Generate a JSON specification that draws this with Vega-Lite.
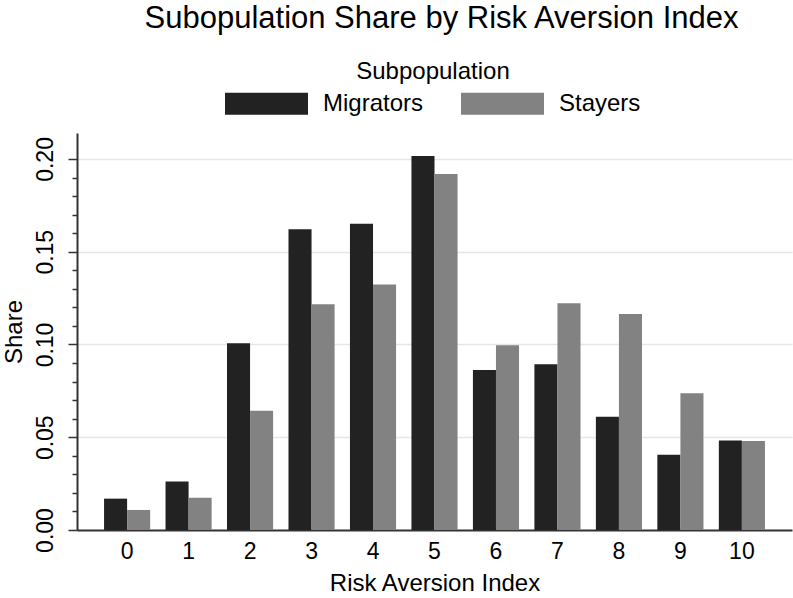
{
  "$schema": "https://vega.github.io/schema/vega-lite/v6.json",
  "width": 715,
  "height": 397,
  "autosize": {"type": "none"},
  "padding": {"left": 77, "top": 133, "right": 1, "bottom": 68},
  "background": "white",
  "config": {
    "font": "Liberation Sans",
    "view": {"stroke": null}
  },
  "title": {
    "text": "Subopulation Share by Risk Aversion Index",
    "fontSize": 31,
    "fontWeight": "normal",
    "color": "black",
    "anchor": "middle",
    "frame": "group",
    "dx": 7,
    "offset": 25
  },
  "data": {
    "values": [
      {"index": "0", "Subpopulation": "Migrators", "share": 0.0169},
      {"index": "0", "Subpopulation": "Stayers", "share": 0.0108},
      {"index": "1", "Subpopulation": "Migrators", "share": 0.0262},
      {"index": "1", "Subpopulation": "Stayers", "share": 0.0174},
      {"index": "2", "Subpopulation": "Migrators", "share": 0.1006},
      {"index": "2", "Subpopulation": "Stayers", "share": 0.0643},
      {"index": "3", "Subpopulation": "Migrators", "share": 0.1621},
      {"index": "3", "Subpopulation": "Stayers", "share": 0.1217},
      {"index": "4", "Subpopulation": "Migrators", "share": 0.1651},
      {"index": "4", "Subpopulation": "Stayers", "share": 0.1324},
      {"index": "5", "Subpopulation": "Migrators", "share": 0.2016},
      {"index": "5", "Subpopulation": "Stayers", "share": 0.1919},
      {"index": "6", "Subpopulation": "Migrators", "share": 0.0863},
      {"index": "6", "Subpopulation": "Stayers", "share": 0.0996},
      {"index": "7", "Subpopulation": "Migrators", "share": 0.0893},
      {"index": "7", "Subpopulation": "Stayers", "share": 0.1222},
      {"index": "8", "Subpopulation": "Migrators", "share": 0.0611},
      {"index": "8", "Subpopulation": "Stayers", "share": 0.1164},
      {"index": "9", "Subpopulation": "Migrators", "share": 0.0406},
      {"index": "9", "Subpopulation": "Stayers", "share": 0.0737},
      {"index": "10", "Subpopulation": "Migrators", "share": 0.0483},
      {"index": "10", "Subpopulation": "Stayers", "share": 0.0480}
    ]
  },
  "mark": {"type": "bar"},
  "encoding": {
    "x": {
      "field": "index",
      "type": "ordinal",
      "sort": ["0","1","2","3","4","5","6","7","8","9","10"],
      "scale": {"paddingInner": 0.25, "paddingOuter": 0.44},
      "axis": {
        "title": "Risk Aversion Index",
        "titleFontSize": 24,
        "titleFontWeight": "normal",
        "titleColor": "black",
        "titlePadding": 8,
        "labelAngle": 0,
        "labelFontSize": 23,
        "labelColor": "black",
        "labelPadding": 10,
        "ticks": false,
        "domainColor": "#333333",
        "domainWidth": 2
      }
    },
    "xOffset": {
      "field": "Subpopulation",
      "type": "nominal",
      "scale": {"paddingInner": 0, "paddingOuter": 0}
    },
    "y": {
      "field": "share",
      "type": "quantitative",
      "scale": {"domain": [0, 0.214], "nice": false, "zero": true},
      "axis": {
        "title": "Share",
        "titleFontSize": 24,
        "titleFontWeight": "normal",
        "titleColor": "black",
        "titlePadding": 8,
        "values": [0, 0.01, 0.02, 0.03, 0.04, 0.05, 0.06, 0.07, 0.08, 0.09, 0.1, 0.11, 0.12, 0.13, 0.14, 0.15, 0.16, 0.17, 0.18, 0.19, 0.2],
        "labelExpr": "abs(datum.value*20 - round(datum.value*20)) < 1e-6 ? format(datum.value, '.2f') : ''",
        "labelAngle": -90,
        "labelAlign": "center",
        "labelBaseline": "bottom",
        "labelFontSize": 23,
        "labelColor": "black",
        "labelPadding": 11,
        "tickSize": {"condition": {"test": "abs(datum.value*20 - round(datum.value*20)) < 1e-6", "value": 9}, "value": 5},
        "tickColor": "#333333",
        "tickWidth": 1.5,
        "grid": true,
        "gridColor": "#e6e6e6",
        "gridWidth": 1.5,
        "gridOpacity": {"condition": {"test": "abs(datum.value*20 - round(datum.value*20)) < 1e-6 && datum.value > 0", "value": 1}, "value": 0},
        "domainColor": "#333333",
        "domainWidth": 2
      }
    },
    "color": {
      "field": "Subpopulation",
      "type": "nominal",
      "scale": {"domain": ["Migrators", "Stayers"], "range": ["#222222", "#828282"]},
      "legend": {
        "orient": "none",
        "legendX": 148,
        "legendY": -73,
        "direction": "horizontal",
        "title": "Subpopulation",
        "titleFontSize": 24,
        "titleFontWeight": "normal",
        "titleColor": "black",
        "titleAnchor": "middle",
        "titlePadding": -22,
        "labelFontSize": 24,
        "labelColor": "black",
        "labelOffset": 15,
        "columnPadding": 37,
        "symbolType": "M-1,-0.265H1V0.265H-1Z",
        "symbolSize": 6889,
        "symbolStrokeWidth": 0,
        "symbolOpacity": 1
      }
    }
  }
}
